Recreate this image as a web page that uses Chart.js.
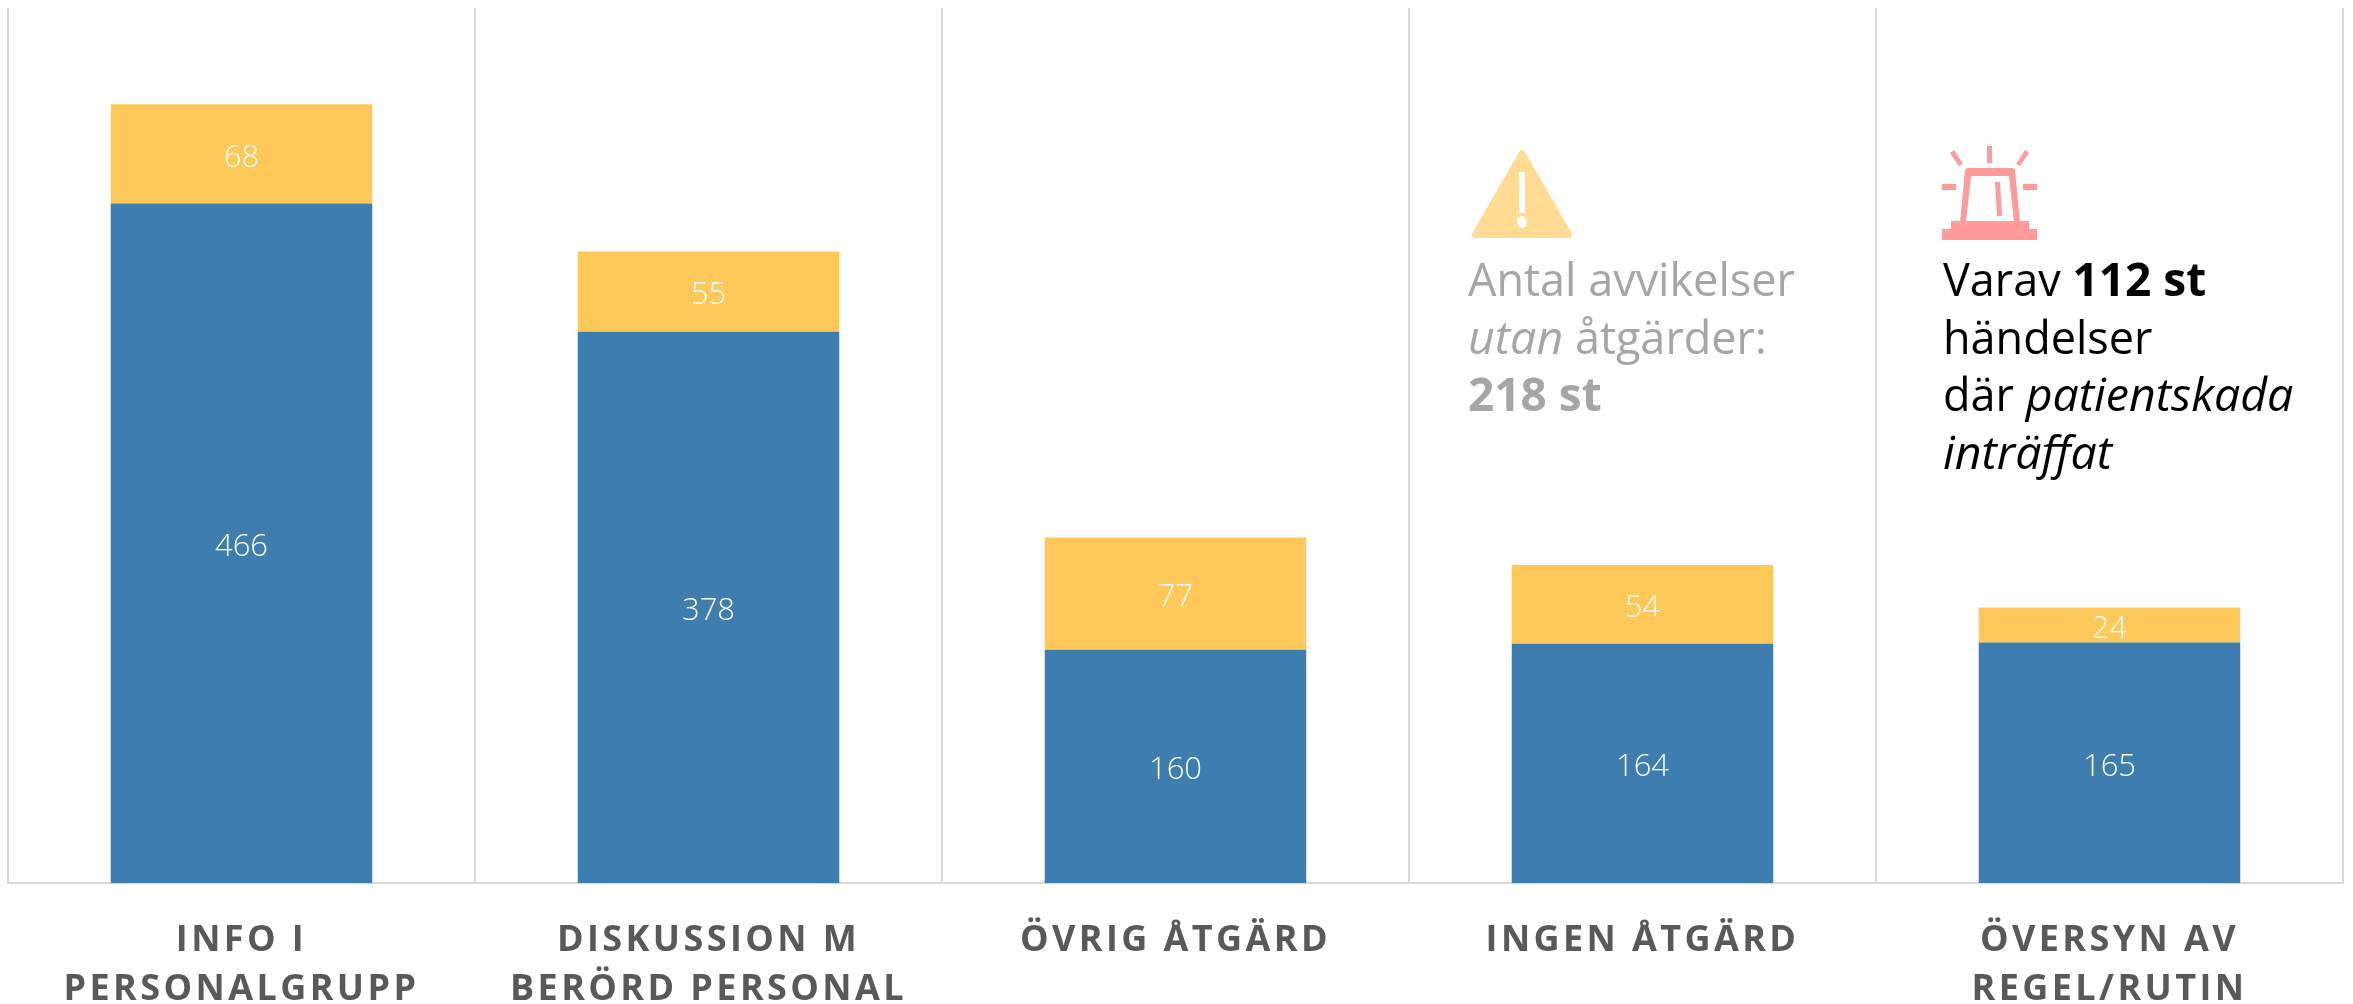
<!DOCTYPE html>
<html lang="sv">
<head>
<meta charset="utf-8">
<title>Åtgärder</title>
<script src="https://cdn.jsdelivr.net/npm/chart.js@4"></script>
<style>
  html, body { margin: 0; padding: 0; background: #fff; overflow: hidden; }
  #wrap { position: relative; width: 2353px; height: 1004px; font-family: "Open Sans", sans-serif; }
  canvas { position: absolute; left: 0; top: 0; }
  .note { position: absolute; font-size: 45px; line-height: 57.5px; white-space: nowrap; font-weight: 400; }
  .note b { font-weight: 700; font-size: 46px; }
  .note i { font-size: 46.5px; }
  .grey { left: 1468px; top: 250px; color: #a6a6a6; }
  .black { left: 1943px; top: 250px; color: #000; }
  svg { position: absolute; }
</style>
</head>
<body>
<div id="wrap">
  <canvas id="myChart" width="2353" height="1004"></canvas>

  <!-- warning triangle -->
  <svg style="left:1470px;top:148px" width="104" height="92" viewBox="0 0 104 92">
    <path d="M52 2 Q54 2 56 6 L101 84 Q104 90 98 90 L6 90 Q0 90 3 84 L48 6 Q50 2 52 2 Z" fill="#ffdb94"/>
    <rect x="49" y="24" width="6" height="41" fill="#fff"/>
    <ellipse cx="52" cy="74" rx="5" ry="6" fill="#fff"/>
  </svg>

  <!-- siren -->
  <svg style="left:1942px;top:145px" width="96" height="96" viewBox="0 0 96 96">
    <g fill="#ff9b9b">
      <rect x="45" y="1" width="5" height="17"/>
      <path d="M8 8 L12 5 L21 19 L17 21 Z"/>
      <path d="M87 8 L83 5 L74 19 L78 21 Z"/>
      <rect x="0" y="39" width="14" height="6"/>
      <rect x="81" y="39" width="14" height="6"/>
      <path d="M26 23 L70 23 Q73 23 73 26 L78 77 L72 77 L67 31 L29 31 L24 77 L18 77 L23 26 Q23 23 26 23 Z"/>
      <path d="M53 37 L58 37 L60 71 L55 71 Z"/>
      <rect x="9" y="76" width="78" height="8"/>
      <rect x="0" y="84" width="95" height="11"/>
    </g>
  </svg>

  <div class="note grey">Antal avvikelser<br><i>utan</i> åtgärder:<br><b>218 st</b></div>
  <div class="note black">Varav <b>112 st</b><br>händelser<br>där <i>patientskada</i><br><i>inträffat</i></div>
</div>

<script>
// Data
const categories = [
  ['INFO I', 'PERSONALGRUPP'],
  ['DISKUSSION M', 'BERÖRD PERSONAL'],
  'ÖVRIG ÅTGÄRD',
  'INGEN ÅTGÄRD',
  ['ÖVERSYN AV', 'REGEL/RUTIN']
];
const blueValues = [466, 378, 160, 164, 165];
const yellowValues = [68, 55, 77, 54, 24];

// Draws the value in the middle of each bar segment
const segmentLabels = {
  id: 'segmentLabels',
  afterDatasetsDraw(chart) {
    const ctx = chart.ctx;
    ctx.save();
    ctx.letterSpacing = '0px';
    ctx.font = '300 31px "Open Sans"';
    ctx.fillStyle = '#fff';
    ctx.textAlign = 'center';
    ctx.textBaseline = 'middle';
    chart.data.datasets.forEach((ds, i) => {
      chart.getDatasetMeta(i).data.forEach((bar, j) => {
        const props = bar.getProps(['x', 'y', 'base'], true);
        ctx.fillText(ds.data[j], props.x, (props.y + props.base) / 2 + 4);
      });
    });
    ctx.restore();
  }
};

// Category labels are spaced out a little
const tickSpacing = {
  id: 'tickSpacing',
  beforeDraw(chart) {
    chart.ctx.letterSpacing = '3.4px';
  }
};

const ctx = document.getElementById('myChart').getContext('2d');
const myChart = new Chart(ctx, {
  type: 'bar',
  plugins: [tickSpacing, segmentLabels],
  data: {
    labels: categories,
    datasets: [
      { label: 'Blue', data: blueValues, backgroundColor: '#3d7db0', categoryPercentage: 1, barPercentage: 0.56 },
      { label: 'Yellow', data: yellowValues, backgroundColor: '#fec958', categoryPercentage: 1, barPercentage: 0.56 }
    ]
  },
  options: {
    responsive: false,
    animation: false,
    layout: { padding: { left: 8, right: 10, top: 8, bottom: 0 } },
    plugins: { legend: { display: false }, tooltip: { enabled: false } },
    scales: {
      x: {
        stacked: true,
        grid: { color: '#d9d9d9', lineWidth: 2, drawTicks: false, offset: true },
        border: { color: '#d9d9d9', width: 2 },
        ticks: {
          color: '#595959',
          maxRotation: 0,
          autoSkip: false,
          padding: 33,
          font: { family: '"Open Sans"', size: 36, weight: '700', lineHeight: 1.36 }
        },
        afterFit(scale) { scale.height = 121; }
      },
      y: {
        stacked: true,
        display: false,
        min: 0,
        max: 600
      }
    }
  }
});
</script>
</body>
</html>
